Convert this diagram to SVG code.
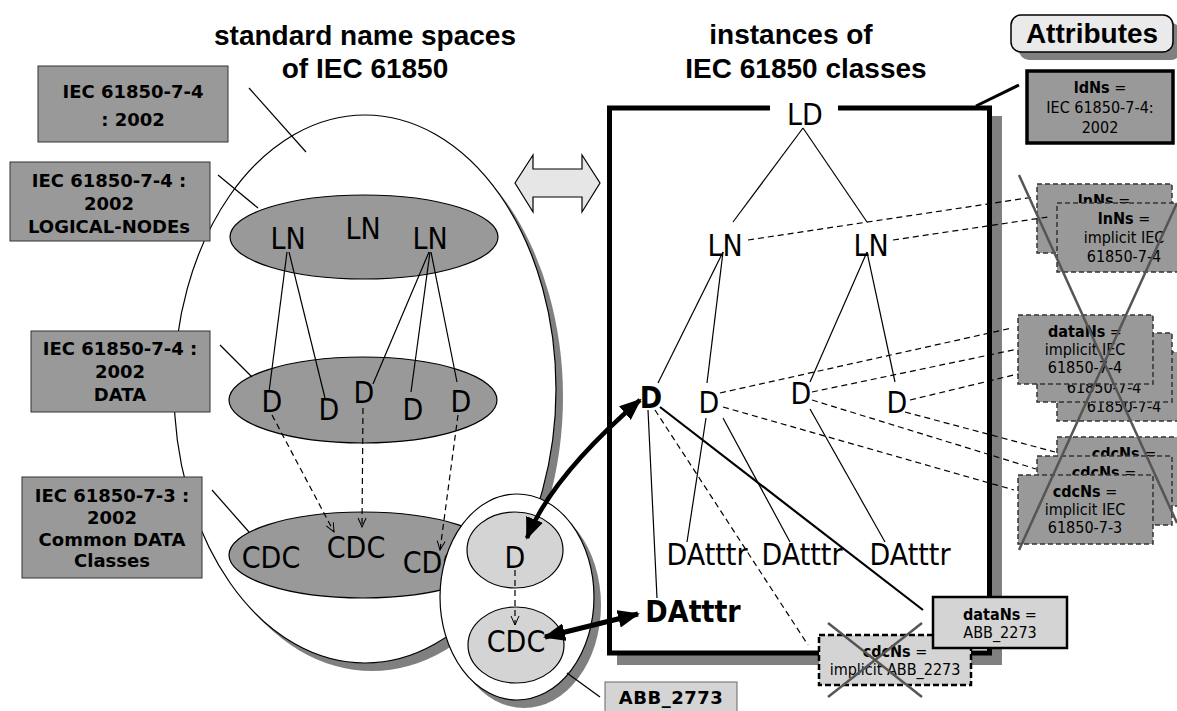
<svg xmlns="http://www.w3.org/2000/svg" width="1177" height="711" viewBox="0 0 1177 711">
<style>
.t{font-family:"Liberation Sans",Arial,sans-serif;font-weight:bold;font-size:28px}
.n{font-family:"DejaVu Sans Condensed","DejaVu Sans",sans-serif;font-stretch:condensed;font-size:30px;text-anchor:middle}
.lb{font-family:"DejaVu Sans",sans-serif;font-weight:bold;font-size:18px;text-anchor:middle}
.s{font-family:"DejaVu Sans Condensed","DejaVu Sans",sans-serif;font-stretch:condensed;font-size:16px;text-anchor:middle}
.b{font-weight:bold}
.ln{stroke:#000;stroke-width:1.2;fill:none}
.dl{stroke:#000;stroke-width:1.2;fill:none;stroke-dasharray:6,4}
.gbox{fill:#999;stroke:#333;stroke-width:1}
.dbox{fill:#999;stroke:#333;stroke-width:1.5;stroke-dasharray:5,3}
.cross{stroke:#555;stroke-width:2.5}
.ell{fill:#999;stroke:#000;stroke-width:1.2}
.lell{fill:#d4d4d4;stroke:#000;stroke-width:1.2}
.sh{fill:#808080}
</style>
<defs>
<marker id="ov" markerUnits="userSpaceOnUse" markerWidth="12" markerHeight="12" refX="10" refY="5" orient="auto"><path d="M1,1 L10,5 L1,9" fill="none" stroke="#000" stroke-width="1"/></marker>
<marker id="bh" markerUnits="userSpaceOnUse" markerWidth="26" markerHeight="20" refX="20" refY="9" orient="auto-start-reverse"><path d="M0,0 L22,9 L0,18 z" fill="#000"/></marker>
</defs>
<rect width="1177" height="711" fill="#fff"/>

<g id="titles">
<text class="t" x="365" y="45" text-anchor="middle">standard name spaces</text>
<text class="t" x="365" y="78" text-anchor="middle">of IEC 61850</text>
<text class="t" x="791" y="44" text-anchor="middle">instances of</text>
<text class="t" x="806" y="78" text-anchor="middle">IEC 61850 classes</text>
</g>

<g id="namespace-egg">
<ellipse class="sh" cx="372" cy="397" rx="191" ry="274"/>
<ellipse cx="365" cy="389" rx="191" ry="274" fill="#fff" stroke="#000" stroke-width="1.2"/>
</g>

<g id="ln-space">
<ellipse class="ell" cx="364" cy="237" rx="134" ry="42"/>
<text class="n" x="288" y="249">LN</text>
<text class="n" x="363" y="239">LN</text>
<text class="n" x="430" y="249">LN</text>
</g>

<g id="data-space">
<ellipse class="ell" cx="363" cy="400" rx="134" ry="43"/>
<text class="n" x="272" y="412">D</text>
<text class="n" x="329" y="420">D</text>
<text class="n" x="364" y="403">D</text>
<text class="n" x="413" y="420">D</text>
<text class="n" x="461" y="412">D</text>
</g>

<g id="cdc-space">
<ellipse class="ell" cx="363" cy="555" rx="134" ry="43"/>
<text class="n" x="271" y="568">CDC</text>
<text class="n" x="356" y="558">CDC</text>
<text class="n" x="432" y="573">CDC</text>
</g>

<g id="labels-left">
<g id="lbl-7-4">
<rect class="gbox" x="38" y="66" width="190" height="76"/>
<text class="lb" x="133" y="98" font-size="20">IEC 61850-7-4</text>
<text class="lb" x="133" y="126" font-size="20">: 2002</text>
</g>
<g id="lbl-ln">
<rect class="gbox" x="10" y="162" width="200" height="79"/>
<text class="lb" x="109" y="187">IEC 61850-7-4 :</text>
<text class="lb" x="109" y="210">2002</text>
<text class="lb" x="109" y="233">LOGICAL-NODEs</text>
</g>
<g id="lbl-data">
<rect class="gbox" x="31" y="331" width="179" height="81"/>
<text class="lb" x="120" y="355">IEC 61850-7-4 :</text>
<text class="lb" x="120" y="378">2002</text>
<text class="lb" x="120" y="401">DATA</text>
</g>
<g id="lbl-cdc">
<rect class="gbox" x="22" y="477" width="180" height="101"/>
<text class="lb" x="112" y="502">IEC 61850-7-3 :</text>
<text class="lb" x="112" y="524">2002</text>
<text class="lb" x="112" y="546">Common DATA</text>
<text class="lb" x="112" y="567">Classes</text>
</g>
</g>

<g id="double-arrow">
<path d="M515,183 L533,155 L533,169 L582,169 L582,155 L600,183 L582,212 L582,197 L533,197 L533,212 Z" fill="#e6e6e6" stroke="#000" stroke-width="1.2"/>
</g>

<g id="ld-box">
<rect class="sh" x="617" y="116" width="385" height="549"/>
<rect x="609.5" y="108" width="380" height="545" fill="#fff" stroke="#000" stroke-width="5"/>
<rect x="770" y="98" width="68" height="18" fill="#fff"/>
<text class="n" x="805" y="125" font-size="39">LD</text>
</g>

<g id="instances">
<text class="n" x="725" y="256">LN</text>
<text class="n" x="871" y="256">LN</text>
<text class="n b" x="651" y="408">D</text>
<text class="n" x="709" y="413">D</text>
<text class="n" x="801" y="404">D</text>
<text class="n" x="897" y="413">D</text>
<text class="n" x="707" y="565">DAtttr</text>
<text class="n" x="802" y="565">DAtttr</text>
<text class="n" x="910" y="565">DAtttr</text>
<text class="n b" x="693" y="622">DAtttr</text>
</g>

<g id="small-oval">
<ellipse class="sh" cx="524" cy="605" rx="77" ry="103"/>
<ellipse cx="517" cy="597" rx="77" ry="103" fill="#fff" stroke="#000" stroke-width="1.2"/>
<ellipse class="lell" cx="515" cy="550" rx="48" ry="38"/>
<ellipse class="lell" cx="516" cy="645" rx="48" ry="38"/>
<text class="n" x="515" y="568">D</text>
<text class="n" x="516" y="652">CDC</text>
</g>

<g id="attr-boxes">
<g id="attributes">
<rect class="sh" x="1019" y="23" width="162" height="37" rx="10"/>
<rect x="1011" y="15" width="162" height="37" rx="10" fill="#eaeaea" stroke="#000" stroke-width="1.5"/>
<text class="t" x="1092" y="43" text-anchor="middle">Attributes</text>
</g>
<g id="ldns">
<rect x="1027" y="71" width="146" height="72" fill="#999" stroke="#000" stroke-width="3.5"/>
<text class="s" x="1100" y="93"><tspan class="b">ldNs</tspan> =</text>
<text class="s" x="1100" y="113">IEC 61850-7-4:</text>
<text class="s" x="1100" y="133">2002</text>
</g>
<g id="lnns">
<rect class="dbox" x="1037" y="184" width="135" height="69"/>
<text class="s" x="1104" y="206"><tspan class="b">lnNs</tspan> =</text>
<rect class="dbox" x="1057" y="203" width="135" height="69"/>
<text class="s" x="1124" y="224"><tspan class="b">lnNs</tspan> =</text>
<text class="s" x="1124" y="243">implicit IEC</text>
<text class="s" x="1124" y="262">61850-7-4</text>
</g>
<g id="datans">
<rect class="dbox" x="1057" y="352" width="135" height="69"/>
<text class="s" x="1124" y="412">61850-7-4</text>
<rect class="dbox" x="1037" y="333" width="135" height="69"/>
<text class="s" x="1104" y="393">61850-7-4</text>
<rect class="dbox" x="1018" y="315" width="135" height="69"/>
<text class="s" x="1085" y="337"><tspan class="b">dataNs</tspan> =</text>
<text class="s" x="1085" y="355">implicit IEC</text>
<text class="s" x="1085" y="373">61850-7-4</text>
</g>
<g id="cdcns">
<rect class="dbox" x="1057" y="437" width="135" height="69"/>
<text class="s" x="1124" y="459"><tspan class="b">cdcNs</tspan> =</text>
<rect class="dbox" x="1037" y="456" width="135" height="69"/>
<text class="s" x="1104" y="478"><tspan class="b">cdcNs</tspan> =</text>
<rect class="dbox" x="1018" y="475" width="135" height="69"/>
<text class="s" x="1085" y="497"><tspan class="b">cdcNs</tspan> =</text>
<text class="s" x="1085" y="515">implicit IEC</text>
<text class="s" x="1085" y="533">61850-7-3</text>
</g>
<g id="cdcns-abb">
<rect x="819" y="635" width="152" height="50" fill="#d4d4d4" stroke="#000" stroke-width="2.5" stroke-dasharray="6,3"/>
<text class="s" x="895" y="657"><tspan class="b">cdcNs</tspan> =</text>
<text class="s" x="895" y="675">implicit ABB_2273</text>
</g>
<g id="datans-abb">
<rect x="933" y="597" width="134" height="51" fill="#d4d4d4" stroke="#000" stroke-width="2.5"/>
<text class="s" x="1000" y="620"><tspan class="b">dataNs</tspan> =</text>
<text class="s" x="1000" y="638">ABB_2273</text>
</g>
<g id="abb-2773">
<rect x="605" y="682" width="132" height="40" fill="#d4d4d4" stroke="#666" stroke-width="1"/>
<text class="lb" x="671" y="704" font-size="17" letter-spacing="0.5">ABB_2773</text>
</g>
</g>

<g id="connectors">
<line class="ln" x1="249" y1="88" x2="306" y2="152"/>
<line class="ln" x1="218" y1="175" x2="258" y2="208"/>
<line class="ln" x1="220" y1="345" x2="252" y2="377"/>
<line class="ln" x1="212" y1="490" x2="249" y2="532"/>
<line class="ln" x1="287" y1="252" x2="269" y2="392"/>
<line class="ln" x1="289" y1="252" x2="325" y2="398"/>
<line class="ln" x1="429" y1="252" x2="373" y2="384"/>
<line class="ln" x1="430" y1="252" x2="411" y2="392"/>
<line class="ln" x1="431" y1="252" x2="457" y2="382"/>
<line class="dl" x1="272" y1="415" x2="334" y2="532" marker-end="url(#ov)"/>
<line class="dl" x1="363" y1="408" x2="362" y2="527" marker-end="url(#ov)"/>
<line class="dl" x1="458" y1="415" x2="440" y2="550" marker-end="url(#ov)"/>
<line class="dl" x1="515" y1="570" x2="515" y2="625" marker-end="url(#ov)"/>
<line class="ln" x1="567" y1="673" x2="600" y2="697"/>
<line class="ln" x1="803" y1="128" x2="733" y2="222"/>
<line class="ln" x1="803" y1="128" x2="867" y2="222"/>
<line class="ln" x1="723" y1="252" x2="658" y2="383"/>
<line class="ln" x1="723" y1="252" x2="707" y2="383"/>
<line class="ln" x1="706" y1="418" x2="687" y2="542"/>
<line class="ln" x1="723" y1="418" x2="790" y2="542"/>
<line class="ln" x1="867" y1="252" x2="810" y2="382"/>
<line class="ln" x1="867" y1="252" x2="895" y2="382"/>
<line class="ln" x1="810" y1="409" x2="885" y2="542"/>
<line class="ln" x1="648" y1="410" x2="657" y2="598"/>
<line x1="660" y1="407" x2="923" y2="610" stroke="#000" stroke-width="2.2"/>
<line class="dl" x1="655" y1="410" x2="808" y2="645"/>
<line class="dl" x1="748" y1="240" x2="1034" y2="197"/>
<line class="dl" x1="893" y1="240" x2="1048" y2="217"/>
<line class="dl" x1="720" y1="393" x2="1012" y2="328"/>
<line class="dl" x1="812" y1="392" x2="1018" y2="349"/>
<line class="dl" x1="910" y1="400" x2="1018" y2="374"/>
<line class="dl" x1="723" y1="407" x2="1014" y2="490"/>
<line class="dl" x1="812" y1="400" x2="1036" y2="469"/>
<line class="dl" x1="905" y1="412" x2="1055" y2="452"/>
<line x1="976" y1="106" x2="1019" y2="85" stroke="#000" stroke-width="3"/>
<path d="M527,538 Q552,476 640,400" fill="none" stroke="#000" stroke-width="4.5" marker-start="url(#bh)" marker-end="url(#bh)"/>
<line x1="545" y1="637" x2="638" y2="614" stroke="#000" stroke-width="5" marker-start="url(#bh)" marker-end="url(#bh)"/>
</g>

<g id="crosses">
<line class="cross" x1="1019" y1="175" x2="1177" y2="523"/>
<line class="cross" x1="1177" y1="203" x2="1019" y2="550"/>
<line class="cross" x1="828" y1="623" x2="922" y2="697"/>
<line class="cross" x1="922" y1="623" x2="828" y2="697"/>
</g>
</svg>
